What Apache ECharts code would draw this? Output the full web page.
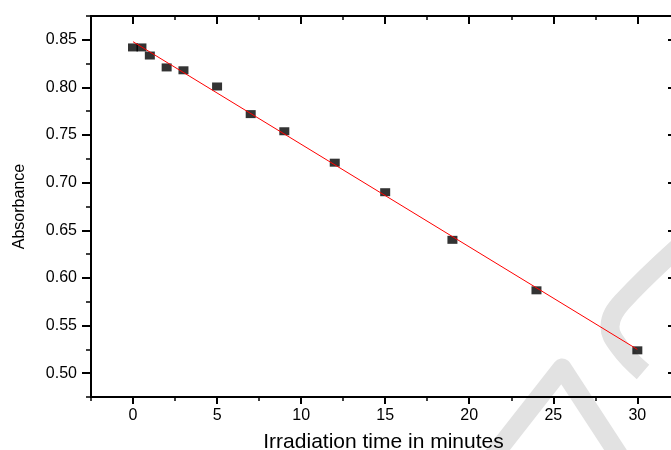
<!DOCTYPE html>
<html>
<head>
<meta charset="utf-8">
<script src="https://cdn.jsdelivr.net/npm/echarts@6/dist/echarts.min.js"></script>
<style>
html,body{margin:0;padding:0;background:#fff;}
#chart{width:671px;height:450px;}
</style>
</head>
<body>
<div id="chart"></div>
<script>
// ---- data ----
var timeMin = [0, 0.5, 1, 2, 3, 5, 7, 9, 12, 15, 19, 24, 30];
var absorbance = [0.842, 0.842, 0.8335, 0.821, 0.818, 0.801, 0.772, 0.754, 0.721, 0.690, 0.640, 0.587, 0.524];
var fitTime = [0, 30];
var fitAbs = [0.848, 0.525];
var xMajorTicks = [0, 5, 10, 15, 20, 25, 30];
var xMinorTicks = [-2.5, 2.5, 7.5, 12.5, 17.5, 22.5, 27.5];
var yMajorTicks = [0.50, 0.55, 0.60, 0.65, 0.70, 0.75, 0.80, 0.85];
var yMinorTicks = [0.475, 0.525, 0.575, 0.625, 0.675, 0.725, 0.775, 0.825, 0.875];
var xTitle = 'Irradiation time in minutes';
var yTitle = 'Absorbance';

var X_MIN = -2.5, X_MAX = 32.3, Y_MIN = 0.475, Y_MAX = 0.875;
var FONT = 'Liberation Sans';

function xAxisDef(pos, ticks, len, width, inside, showLine, showLabel) {
  return {
    type: 'value', position: pos, min: X_MIN, max: X_MAX,
    axisLine: { show: showLine, onZero: false, lineStyle: { color: '#000', width: 2 } },
    axisTick: { show: true, inside: inside, length: len, customValues: ticks, lineStyle: { color: '#000', width: width } },
    axisLabel: { show: showLabel, customValues: ticks, margin: 11, color: '#000', fontFamily: FONT, fontSize: 16 },
    splitLine: { show: false }
  };
}
function yAxisDef(pos, ticks, len, width, inside, showLine, showLabel) {
  return {
    type: 'value', position: pos, min: Y_MIN, max: Y_MAX,
    axisLine: { show: showLine, onZero: false, lineStyle: { color: '#000', width: 2 } },
    axisTick: { show: true, inside: inside, length: len, customValues: ticks, lineStyle: { color: '#000', width: width } },
    axisLabel: { show: showLabel, customValues: ticks, margin: 14, color: '#000', fontFamily: FONT, fontSize: 16,
      formatter: function (v) { return v.toFixed(2); } },
    splitLine: { show: false }
  };
}

var xBottom = xAxisDef('bottom', xMajorTicks, 7, 2, false, true, true);
xBottom.name = xTitle;
xBottom.nameLocation = 'middle';
xBottom.nameGap = 35;
xBottom.nameTextStyle = { color: '#000', fontFamily: FONT, fontSize: 21 };

var yLeft = yAxisDef('left', yMajorTicks, 9, 2, false, true, true);
yLeft.name = yTitle;
yLeft.nameLocation = 'middle';
yLeft.nameGap = 63;
yLeft.nameTextStyle = { color: '#000', fontFamily: FONT, fontSize: 16 };

var chart = echarts.init(document.getElementById('chart'), null, { renderer: 'canvas' });
chart.setOption({
  animation: false,
  backgroundColor: '#fff',
  grid: { left: 91, width: 585, top: 16, height: 381, containLabel: false, outerBoundsMode: 'none' },
  graphic: [
    { type: 'polyline', z: -10, silent: true,
      shape: { points: [[700, 228], [622, 302], [610, 326], [620, 348], [643, 372]], smooth: 0.4 },
      style: { stroke: '#e2e2e2', lineWidth: 19, fill: null, lineCap: 'butt' } },
    { type: 'polyline', z: -10, silent: true,
      shape: { points: [[490, 460], [562, 368], [622, 460]] },
      style: { stroke: '#e2e2e2', lineWidth: 19, fill: null, lineJoin: 'round' } }
  ],
  xAxis: [
    xBottom,
    xAxisDef('bottom', xMinorTicks, 4, 1.5, false, false, false),
    xAxisDef('top', xMajorTicks, 8, 2, true, true, false),
    xAxisDef('top', xMinorTicks, 4, 1.5, true, false, false)
  ],
  yAxis: [
    yLeft,
    yAxisDef('left', yMinorTicks, 5, 1.5, false, false, false),
    yAxisDef('right', yMajorTicks, 8, 2, true, true, false),
    yAxisDef('right', yMinorTicks, 4, 1.5, true, false, false)
  ],
  series: [
    {
      type: 'scatter', xAxisIndex: 0, yAxisIndex: 0, z: 3,
      symbol: 'rect', symbolSize: [10, 8],
      itemStyle: { color: '#000' },
      data: timeMin.map(function (t, i) { return [t, absorbance[i]]; })
    },
    {
      type: 'line', xAxisIndex: 0, yAxisIndex: 0, z: 4,
      symbol: 'none', silent: true,
      lineStyle: { color: '#ff0000', width: 1 },
      data: fitTime.map(function (t, i) { return [t, fitAbs[i]]; })
    }
  ]
});
</script>
</body>
</html>
